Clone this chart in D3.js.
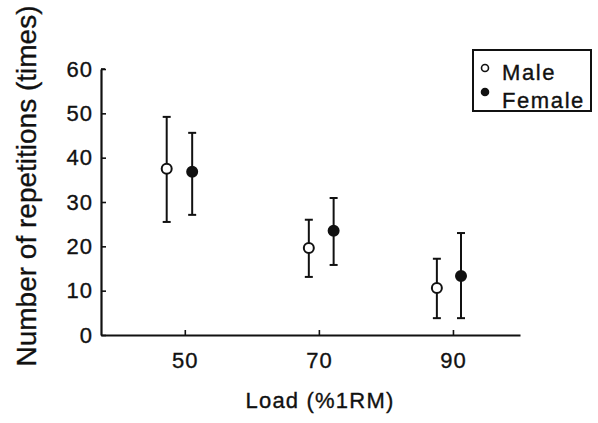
<!DOCTYPE html>
<html>
<head>
<meta charset="utf-8">
<script src="https://cdn.jsdelivr.net/npm/d3@7"></script>
<style>
  body { margin: 0; background: #fff; }
  text { font-family: "Liberation Sans", Arial, sans-serif; fill: #111; stroke: #111; stroke-width: 0.35px; }
</style>
</head>
<body>
<svg id="chart" width="598" height="423"></svg>
<script>
// loads on the x axis (%1RM)
const xTicks = [50, 70, 90];
const yTicks = [0, 10, 20, 30, 40, 50, 60];

// male: x position, mean, lower and upper end of the error bar
const maleX = [47.3, 68.5, 87.6];
const maleMean = [37.5, 19.6, 10.6];
const maleLow = [25.5, 13.1, 3.8];
const maleHigh = [49.2, 26.0, 17.2];

// female
const femaleX = [51.1, 72.2, 91.2];
const femaleMean = [36.8, 23.5, 13.3];
const femaleLow = [27.1, 15.8, 3.8];
const femaleHigh = [45.6, 30.9, 23.0];

const series = [
  { name: 'Male', fill: '#fff', x: maleX, mean: maleMean, low: maleLow, high: maleHigh },
  { name: 'Female', fill: '#111', x: femaleX, mean: femaleMean, low: femaleLow, high: femaleHigh }
];

const svg = d3.select('#chart');
const plotLeft = 101, plotRight = 520, plotTop = 69, plotBottom = 335;

const x = d3.scaleLinear().domain([37.5, 100]).range([plotLeft, plotRight]);
const y = d3.scaleLinear().domain([0, 60]).range([plotBottom, plotTop]);

// axes, ticks point inward
const xAxis = svg.append('g')
  .attr('transform', `translate(0,${plotBottom})`)
  .call(d3.axisBottom(x).tickValues(xTicks).tickSizeInner(-5).tickSizeOuter(0).tickPadding(17));
const yAxis = svg.append('g')
  .attr('transform', `translate(${plotLeft},0)`)
  .call(d3.axisLeft(y).tickValues(yTicks).tickSizeInner(-5).tickSizeOuter(0).tickPadding(8));

[xAxis, yAxis].forEach(a => {
  a.select('.domain').attr('stroke', '#111').attr('stroke-width', 2.2);
  a.selectAll('.tick line').attr('stroke', '#111').attr('stroke-width', 1.6);
  a.selectAll('.tick text').attr('font-size', 22).attr('letter-spacing', 1).attr('fill', '#111');
});
// small top cap of y axis
svg.append('line').attr('x1', plotLeft).attr('x2', plotLeft + 4)
  .attr('y1', y(60)).attr('y2', y(60)).attr('stroke', '#111').attr('stroke-width', 1.6);

// error bars and points
series.forEach(s => {
  const g = svg.append('g');
  const pts = s.x.map((v, i) => ({ x: v, m: s.mean[i], lo: s.low[i], hi: s.high[i] }));
  g.selectAll('line.bar').data(pts).enter().append('line')
    .attr('x1', d => x(d.x)).attr('x2', d => x(d.x))
    .attr('y1', d => y(d.lo)).attr('y2', d => y(d.hi))
    .attr('stroke', '#111').attr('stroke-width', 2);
  ['lo', 'hi'].forEach(k => {
    g.selectAll('line.cap' + k).data(pts).enter().append('line')
      .attr('x1', d => x(d.x) - 4).attr('x2', d => x(d.x) + 4)
      .attr('y1', d => y(d[k])).attr('y2', d => y(d[k]))
      .attr('stroke', '#111').attr('stroke-width', 2);
  });
  g.selectAll('circle').data(pts).enter().append('circle')
    .attr('cx', d => x(d.x)).attr('cy', d => y(d.m)).attr('r', 5)
    .attr('fill', s.fill).attr('stroke', '#111').attr('stroke-width', 2);
});

// axis titles
svg.append('text').attr('x', 320).attr('y', 408).attr('text-anchor', 'middle')
  .attr('font-size', 22).attr('letter-spacing', 1.2).text('Load (%1RM)');
svg.append('text').attr('transform', 'translate(36,186) rotate(-90)')
  .attr('text-anchor', 'middle').attr('font-size', 28).text('Number of repetitions (times)');

// legend
const leg = svg.append('g');
series.forEach((s, i) => {
  leg.append('circle').attr('cx', 485).attr('cy', 68 + i * 24).attr('r', 3.5)
    .attr('fill', s.fill).attr('stroke', '#111').attr('stroke-width', 1.6);
  leg.append('text').attr('x', 502).attr('y', 80 + i * 28).attr('font-size', 22)
    .attr('letter-spacing', 1.6).text(s.name);
});
leg.append('rect').attr('x', 473).attr('y', 50).attr('width', 118).attr('height', 61)
  .attr('fill', 'none').attr('stroke', '#111').attr('stroke-width', 2);
</script>
</body>
</html>
